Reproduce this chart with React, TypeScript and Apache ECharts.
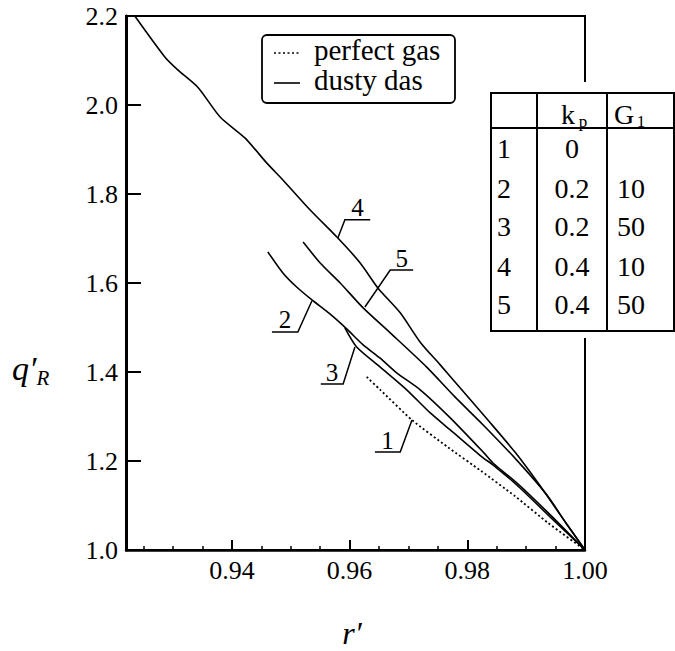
import React, { useEffect, useRef } from "react";
import * as echarts from "echarts";

// ---- data ----
const xMajorTicks = [0.94, 0.96, 0.98, 1.0];
const xMinorTicks = [0.925, 0.93, 0.935, 0.945, 0.95, 0.955, 0.965, 0.97, 0.975, 0.985, 0.99, 0.995];

// curve 1: perfect gas (k_p = 0)
const curve1: [number, number][] = [
  [0.9629, 1.389], [0.9652, 1.36], [0.9706, 1.292], [0.9767, 1.231], [0.9823, 1.178],
  [0.9881, 1.121], [0.9937, 1.061], [1.0, 1.0],
];
// curve 2: k_p 0.2, G1 10
const curve2: [number, number][] = [
  [0.9461, 1.67], [0.9487, 1.622], [0.951, 1.591], [0.9536, 1.562], [0.9567, 1.53],
  [0.9595, 1.497], [0.9623, 1.461], [0.9652, 1.431], [0.968, 1.398], [0.972, 1.36],
  [0.9771, 1.297], [0.9827, 1.22], [0.9844, 1.195], [0.9884, 1.151], [0.9941, 1.079], [1.0, 1.0],
];
// curve 3: k_p 0.2, G1 50
const curve3: [number, number][] = [
  [0.9592, 1.499], [0.9612, 1.456], [0.9652, 1.411], [0.9697, 1.36], [0.9737, 1.308],
  [0.9771, 1.27], [0.9827, 1.207], [0.9844, 1.191], [0.9884, 1.146], [0.9941, 1.074], [1.0, 1.0],
];
// curve 4: k_p 0.4, G1 10
const curve4: [number, number][] = [
  [0.9235, 2.2], [0.9286, 2.108], [0.9308, 2.079], [0.9342, 2.04], [0.938, 1.973],
  [0.9422, 1.926], [0.9459, 1.87], [0.9487, 1.831], [0.9533, 1.764], [0.958, 1.701],
  [0.9618, 1.645], [0.9648, 1.589], [0.9686, 1.533], [0.972, 1.467], [0.9754, 1.416],
  [0.9788, 1.364], [0.9835, 1.292], [0.9881, 1.22], [0.992, 1.151], [0.9958, 1.079], [1.0, 1.0],
];
// curve 5: k_p 0.4, G1 50
const curve5: [number, number][] = [
  [0.9521, 1.692], [0.955, 1.645], [0.9584, 1.6], [0.9623, 1.544], [0.9669, 1.488],
  [0.9731, 1.411], [0.9779, 1.344], [0.9827, 1.281], [0.9884, 1.202], [0.9935, 1.124],
  [0.9969, 1.058], [1.0, 1.0],
];

const legendNames = ["perfect gas", "dusty das"];

const tableRowIds = ["1", "2", "3", "4", "5"];
const tableKp = ["0", "0.2", "0.2", "0.4", "0.4"];
const tableG1 = ["", "10", "50", "10", "50"];

// callouts: label, point on curve, elbow, underline end (data coords)
const callouts = [
  { label: "4", curve: [0.958, 1.701], elbow: [0.9592, 1.742], end: [0.9635, 1.742] },
  { label: "5", curve: [0.9626, 1.546], elbow: [0.9669, 1.629], end: [0.9708, 1.629] },
  { label: "2", curve: [0.9536, 1.56], elbow: [0.9512, 1.49], end: [0.9468, 1.49] },
  { label: "3", curve: [0.9609, 1.456], elbow: [0.9589, 1.373], end: [0.9551, 1.373] },
  { label: "1", curve: [0.9706, 1.292], elbow: [0.9686, 1.22], end: [0.9643, 1.22] },
];

const FONT = "Liberation Serif";

export default function App() {
  const ref = useRef<HTMLDivElement>(null);
  useEffect(() => {
    const chart = echarts.init(ref.current!, undefined, { renderer: "svg" });
    const mk = (name: string, data: [number, number][], dotted = false) => ({
      type: "line",
      name,
      data,
      showSymbol: false,
      symbol: "none",
      silent: true,
      smooth: dotted ? 0.2 : 0.25,
      z: 3,
      lineStyle: { color: "#000", width: dotted ? 1.8 : 1.6, type: dotted ? [2, 2.5] : "solid" },
    });
    chart.setOption({
      animation: false,
      backgroundColor: "#fff",
      textStyle: { fontFamily: FONT },
      grid: {
        left: 126,
        right: 90,
        top: 16,
        bottom: 101,
        show: true,
        borderColor: "#000",
        borderWidth: 2,
        containLabel: false,
      },
      xAxis: [
        {
          type: "value",
          min: 0.922,
          max: 1.0,
          position: "bottom",
          axisLine: { show: true, lineStyle: { color: "#000", width: 2.5 } },
          axisTick: { show: true, inside: true, length: 10, customValues: xMajorTicks, lineStyle: { color: "#000", width: 2 } },
          axisLabel: {
            customValues: xMajorTicks,
            formatter: (v: number) => v.toFixed(2),
            fontSize: 26,
            fontFamily: FONT,
            color: "#000",
            margin: 7,
          },
          splitLine: { show: false },
        },
        {
          type: "value",
          min: 0.922,
          max: 1.0,
          position: "bottom",
          axisLine: { show: false },
          axisTick: { show: true, inside: true, length: 4, customValues: xMinorTicks, lineStyle: { color: "#000", width: 1.5 } },
          axisLabel: { show: false },
          splitLine: { show: false },
        },
      ],
      yAxis: {
        type: "value",
        min: 1.0,
        max: 2.2,
        interval: 0.2,
        axisLine: { show: true, lineStyle: { color: "#000", width: 3 } },
        axisTick: { show: true, inside: true, length: 15, lineStyle: { color: "#000", width: 2 } },
        axisLabel: {
          formatter: (v: number) => v.toFixed(1),
          fontSize: 26,
          fontFamily: FONT,
          color: "#000",
          margin: 8,
        },
        splitLine: { show: false },
      },
      series: [
        mk("1", curve1, true),
        mk("2", curve2),
        mk("3", curve3),
        mk("4", curve4),
        mk("5", curve5),
      ],
    });

    const px = (p: number[]) => chart.convertToPixel({ seriesIndex: 0 }, p) as number[];
    const black = "#000";
    const g: any[] = [];

    // callouts
    callouts.forEach((c) => {
      const a = px(c.curve);
      const b = px(c.elbow);
      const e = px(c.end);
      g.push({
        type: "polyline",
        z: 20,
        shape: { points: [a, b, e] },
        style: { stroke: black, lineWidth: 1.5, fill: "none" },
      });
      g.push({
        type: "text",
        z: 20,
        style: {
          text: c.label,
          x: (b[0] + e[0]) / 2,
          y: b[1] - 12,
          align: "center",
          verticalAlign: "middle",
          fontSize: 25,
          fontFamily: FONT,
          fill: black,
        },
      });
    });

    // legend box
    g.push({ type: "rect", z: 20, shape: { x: 262, y: 35, width: 193, height: 68, r: 5 }, style: { fill: "#fff", stroke: black, lineWidth: 1.8 } });
    g.push({ type: "line", z: 21, shape: { x1: 274, y1: 53, x2: 300, y2: 53 }, style: { stroke: black, lineWidth: 1.6, lineDash: [2, 2.5] } });
    g.push({ type: "line", z: 21, shape: { x1: 274, y1: 83, x2: 300, y2: 83 }, style: { stroke: black, lineWidth: 1.6 } });
    legendNames.forEach((n, i) => {
      g.push({
        type: "text",
        z: 21,
        style: { text: n, x: 314, y: 50 + i * 30, align: "left", verticalAlign: "middle", fontSize: 29, fontFamily: FONT, fill: black },
      });
    });

    // table
    const tx0 = 491, tx1 = 674, ty0 = 93, ty1 = 331, d1 = 537, d2 = 607, hy = 128;
    g.push({ type: "rect", z: 30, shape: { x: 485, y: 82, width: 190, height: 256 }, style: { fill: "#fff", stroke: "none" } });
    g.push({ type: "rect", z: 31, shape: { x: tx0, y: ty0, width: tx1 - tx0, height: ty1 - ty0 }, style: { fill: "none", stroke: black, lineWidth: 2 } });
    g.push({ type: "line", z: 31, shape: { x1: tx0, y1: hy, x2: tx1, y2: hy }, style: { stroke: black, lineWidth: 2 } });
    g.push({ type: "line", z: 31, shape: { x1: d1, y1: ty0, x2: d1, y2: ty1 }, style: { stroke: black, lineWidth: 2 } });
    g.push({ type: "line", z: 31, shape: { x1: d2, y1: ty0, x2: d2, y2: ty1 }, style: { stroke: black, lineWidth: 2 } });
    const txt = (t: string, x: number, y: number, size: number, extra: any = {}) => ({
      type: "text",
      z: 32,
      style: { text: t, x, y, align: "center", verticalAlign: "middle", fontSize: size, fontFamily: FONT, fill: black, ...extra },
    });
    g.push(txt("k", 568, 114, 28));
    g.push(txt("p", 583, 121, 17));
    g.push(txt("G", 624, 114, 28));
    g.push(txt("1", 641, 121, 17));
    const rowY = [148, 188, 226, 266, 304];
    tableRowIds.forEach((r, i) => {
      g.push(txt(r, 504, rowY[i], 28));
      g.push(txt(tableKp[i], 572, rowY[i], 28));
      if (tableG1[i]) g.push(txt(tableG1[i], 631, rowY[i], 28));
    });

    // axis titles
    g.push({
      type: "text",
      z: 32,
      style: {
        text: "{q|q\u2032}{r|R}",
        x: 12,
        y: 368,
        align: "left",
        verticalAlign: "middle",
        fill: black,
        rich: {
          q: { fontSize: 34, fontStyle: "italic", fontFamily: FONT, lineHeight: 40, verticalAlign: "middle", fill: black },
          r: { fontSize: 21, fontStyle: "italic", fontFamily: FONT, lineHeight: 40, verticalAlign: "bottom", fill: black },
        },
      },
    });
    g.push(txt("r\u2032", 352, 633, 32, { fontStyle: "italic" }));

    chart.setOption({ graphic: g });
    return () => chart.dispose();
  }, []);
  return <div ref={ref} style={{ position: "absolute", left: 0, top: 0, width: 675, height: 651 }} />;
}
